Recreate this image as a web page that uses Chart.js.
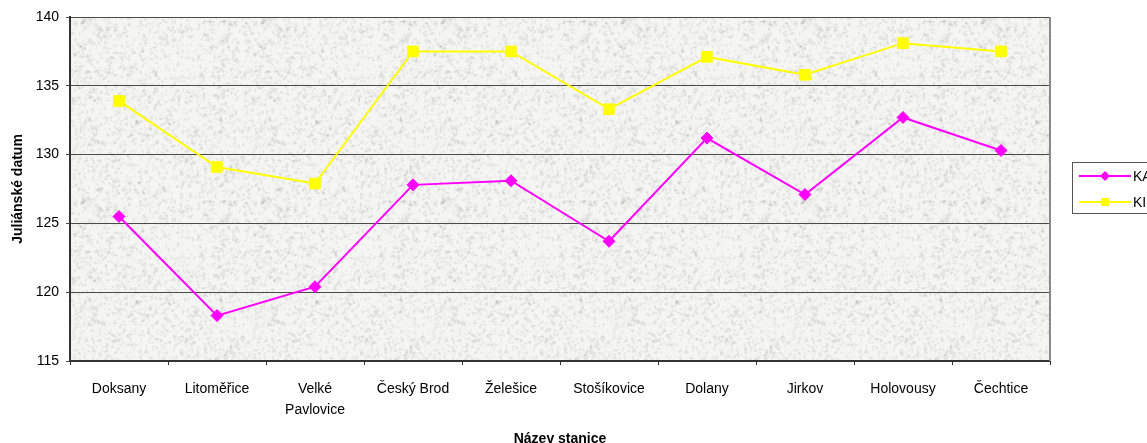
<!DOCTYPE html>
<html lang="cs">
<head>
<meta charset="utf-8">
<title>Juliánské datum podle stanice</title>
<script src="https://cdn.jsdelivr.net/npm/chart.js@4.4.1/dist/chart.umd.min.js"></script>
<style>
  html, body { margin: 0; padding: 0; background: #fff; overflow: hidden; }
  #wrap { width: 1147px; height: 443px; overflow: hidden; }
</style>
</head>
<body>
<div id="wrap"><canvas id="graf" width="1200" height="450"></canvas></div>
<script>
// stanice a hodnoty (juliánské datum)
const stanice = ['Doksany', 'Litoměřice', ['Velké', 'Pavlovice'], 'Český Brod', 'Želešice',
                 'Stošíkovice', 'Dolany', 'Jirkov', 'Holovousy', 'Čechtice'];
const hodnotyKA = [125.5, 118.3, 120.4, 127.8, 128.1, 123.7, 131.2, 127.1, 132.7, 130.3];
const hodnotyKI = [133.9, 129.1, 127.9, 137.5, 137.5, 133.3, 137.1, 135.8, 138.1, 137.5];
const nazvyRad = ['KA', 'KI'];
const osaY = { min: 115, max: 140, krok: 5 };

Chart.defaults.font.family = 'Arial, "Liberation Sans", sans-serif';
Chart.defaults.font.size = 14;
Chart.defaults.color = '#000';

// "žulové" pozadí plochy grafu - jemný šum se pevným seedem
function mulberry32(a) {
    return function () {
        a |= 0; a = a + 0x6D2B79F5 | 0;
        let t = Math.imul(a ^ a >>> 15, 1 | a);
        t = t + Math.imul(t ^ t >>> 7, 61 | t) ^ t;
        return ((t ^ t >>> 14) >>> 0) / 4294967296;
    };
}
function vytvorVzor(ctx) {
    const c = document.createElement('canvas');
    c.width = 180; c.height = 180;
    const g = c.getContext('2d');
    g.fillStyle = '#f5f5f4';
    g.fillRect(0, 0, c.width, c.height);
    const rnd = mulberry32(20240);
    for (let i = 0; i < 3200; i++) {
        const x = rnd() * c.width, y = rnd() * c.height;
        const r = 0.5 + rnd() * 1.6;
        const a = 0.03 + rnd() * 0.09;
        g.fillStyle = `rgba(100,100,100,${a.toFixed(3)})`;
        g.beginPath();
        g.ellipse(x, y, r * (0.6 + rnd()), r * 0.7, rnd() * Math.PI, 0, Math.PI * 2);
        g.fill();
    }
    return ctx.createPattern(c, 'repeat');
}

const pozadiPlochy = {
    id: 'pozadiPlochy',
    beforeDraw(chart) {
        const { ctx, chartArea: a } = chart;
        ctx.save();
        ctx.fillStyle = vytvorVzor(ctx);
        ctx.fillRect(a.left, a.top, a.right - a.left, a.bottom - a.top);
        ctx.restore();
    },
    afterDraw(chart) {
        const { ctx, chartArea: a } = chart;
        // pravý okraj plochy
        ctx.save();
        ctx.strokeStyle = '#8a8a8a';
        ctx.lineWidth = 2;
        ctx.beginPath();
        ctx.moveTo(a.right, a.top);
        ctx.lineTo(a.right, a.bottom);
        ctx.stroke();
        ctx.restore();
    }
};

// legenda v rámečku vpravo
const legendaRamecek = {
    id: 'legendaRamecek',
    afterDraw(chart) {
        const ctx = chart.ctx;
        const x0 = 1072, y0 = 162, h = 51;
        ctx.save();
        ctx.fillStyle = '#fff';
        ctx.fillRect(x0, y0, 200, h);
        ctx.strokeStyle = '#555';
        ctx.lineWidth = 1;
        ctx.strokeRect(x0 + 0.5, y0 + 0.5, 200, h);
        chart.data.datasets.forEach((ds, i) => {
            const y = y0 + 14 + i * 26;
            ctx.strokeStyle = ds.borderColor;
            ctx.lineWidth = 2;
            ctx.beginPath();
            ctx.moveTo(x0 + 7, y);
            ctx.lineTo(x0 + 59, y);
            ctx.stroke();
            const cx = x0 + 33;
            ctx.fillStyle = ds.borderColor;
            ctx.beginPath();
            if (ds.pointStyle === 'rectRot') {
                ctx.moveTo(cx - 5, y); ctx.lineTo(cx, y - 5);
                ctx.lineTo(cx + 5, y); ctx.lineTo(cx, y + 5);
                ctx.closePath();
            } else {
                ctx.rect(cx - 4, y - 4, 8, 8);
            }
            ctx.fill();
            ctx.fillStyle = '#000';
            ctx.font = '14px Arial, "Liberation Sans", sans-serif';
            ctx.textBaseline = 'middle';
            ctx.fillText(nazvyRad[i], x0 + 61, y + 1);
        });
        ctx.restore();
    }
};

new Chart(document.getElementById('graf'), {
    type: 'line',
    data: {
        labels: stanice,
        datasets: [
            {
                label: nazvyRad[0],
                data: hodnotyKA,
                borderColor: '#ff00ff',
                backgroundColor: '#ff00ff',
                borderWidth: 2,
                pointStyle: 'rectRot',
                pointRadius: 6,
                pointBorderWidth: 1,
                tension: 0
            },
            {
                label: nazvyRad[1],
                data: hodnotyKI,
                borderColor: '#ffff00',
                backgroundColor: '#ffff00',
                borderWidth: 2,
                pointStyle: 'rect',
                pointRadius: 7.5,
                pointBorderWidth: 1,
                tension: 0
            }
        ]
    },
    options: {
        responsive: false,
        animation: false,
        layout: { padding: { top: 17, right: 150, left: 0, bottom: 0 } },
        plugins: {
            legend: { display: false },
            tooltip: { enabled: false }
        },
        scales: {
            x: {
                offset: true,
                afterFit: (s) => { s.height = 89; },
                grid: { offset: true, drawOnChartArea: false, tickLength: 4, color: '#333', lineWidth: 1 },
                border: { color: '#333', width: 2 },
                ticks: { padding: 14, maxRotation: 0, autoSkip: false, font: { size: 14, lineHeight: 1.5 } },
                title: {
                    display: true,
                    text: 'Název stanice',
                    font: { size: 14, weight: 'bold' },
                    padding: { top: 0, bottom: 2 }
                }
            },
            y: {
                min: osaY.min,
                max: osaY.max,
                afterFit: (s) => { s.width = 70; },
                grid: { color: '#4a4a4a', lineWidth: 1, tickLength: 4 },
                border: { color: '#333', width: 2 },
                ticks: { stepSize: osaY.krok, padding: 7, font: { size: 14 } },
                title: {
                    display: true,
                    text: 'Juliánské datum',
                    font: { size: 14, weight: 'bold' },
                    padding: { top: 10, bottom: 0 }
                }
            }
        }
    },
    plugins: [pozadiPlochy, legendaRamecek]
});
</script>
</body>
</html>
